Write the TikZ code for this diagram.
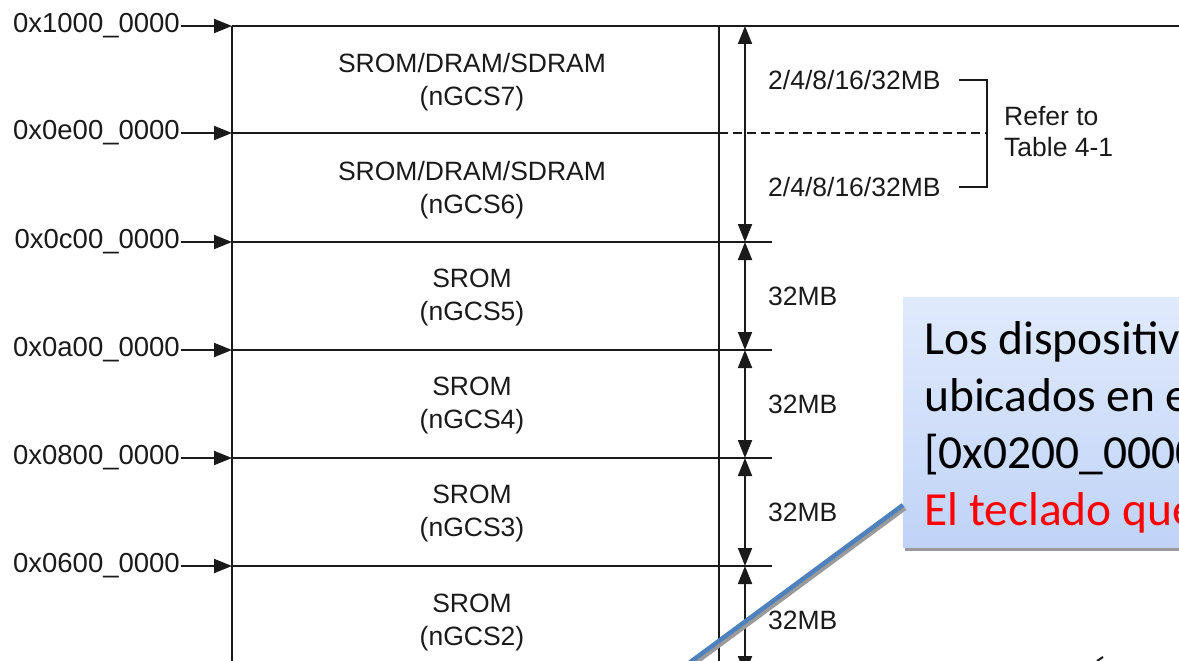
\documentclass[tikz,border=0pt]{standalone}
\usepackage{fontspec}
\setmainfont{Liberation Sans}
\newfontfamily\calloutfont{Carlito}
\usetikzlibrary{arrows.meta}
\definecolor{ink}{HTML}{1A1A1A}
\definecolor{noteTop}{HTML}{E0EAFC}
\definecolor{noteBot}{HTML}{C0D3F7}
\definecolor{pointerBlue}{HTML}{4F81BD}
\definecolor{shadowGrey}{HTML}{9A9A9A}
\begin{document}
\begin{tikzpicture}[x=1pt,y=-1pt,
  rule/.style={line width=1.9pt, draw=ink},
  addrarrow/.style={rule, -{Triangle[length=18pt,width=14pt]}},
  dimarrow/.style={rule, {Triangle[length=18pt,width=14pt]}-{Triangle[length=18pt,width=14pt]}},
  addr/.style={font=\fontsize{27.5}{30}\selectfont, text=ink, anchor=east, inner sep=1pt},
  blk/.style={font=\fontsize{26.5}{33}\selectfont, text=ink, align=center, inner sep=0pt},
  size/.style={font=\fontsize{26.5}{30}\selectfont, text=ink, anchor=west, inner sep=1pt},
  notebox/.style={anchor=north west, inner sep=0pt, minimum width=300pt, minimum height=250pt,
                  top color=noteTop, bottom color=noteBot, draw=none}]
\useasboundingbox (0,0) rectangle (1179,661);
\clip (0,0) rectangle (1179,661);

% boundaries of the map on the left edge
\coordinate (L0) at (232,26);
\coordinate (L1) at (232,133);
\coordinate (L2) at (232,242);
\coordinate (L3) at (232,350);
\coordinate (L4) at (232,458);
\coordinate (L5) at (232,566);
\coordinate (Lend) at (232,690);
% right edge of the map
\coordinate (R0) at (719,26);
\coordinate (R1) at (719,133);
\coordinate (Rend) at (719,690);
% end points of the size arrows
\coordinate (D0) at (745,26);
\coordinate (D2) at (745,242);
\coordinate (D3) at (745,350);
\coordinate (D4) at (745,458);
\coordinate (D5) at (745,566);
\coordinate (D6) at (745,674);

% address labels
\node[addr] (a0) at (181,26)  {0x1000\_0000};
\node[addr] (a1) at (181,133) {0x0e00\_0000};
\node[addr] (a2) at (181,242) {0x0c00\_0000};
\node[addr] (a3) at (181,350) {0x0a00\_0000};
\node[addr] (a4) at (181,458) {0x0800\_0000};
\node[addr] (a5) at (181,566) {0x0600\_0000};
\foreach \i in {0,...,5} \draw[addrarrow] (a\i.east) -- (L\i);

% frame of the memory map
\draw[rule] (L0) -- (1179,26);
\draw[rule] (L0) -- (Lend);
\draw[rule] (R0) -- (Rend);
\draw[rule] (L1) -- (R1);
\foreach \i/\y in {2/242,3/350,4/458,5/566} \draw[rule] (L\i) -- (772,\y);

% banks
\node[blk] (b7) at (472,82)  {SROM/DRAM/SDRAM\\(nGCS7)};
\node[blk] (b6) at (472,190) {SROM/DRAM/SDRAM\\(nGCS6)};
\node[blk] (b5) at (472,297) {SROM\\(nGCS5)};
\node[blk] (b4) at (472,405) {SROM\\(nGCS4)};
\node[blk] (b3) at (472,513) {SROM\\(nGCS3)};
\node[blk] (b2) at (472,622) {SROM\\(nGCS2)};

% bank sizes
\draw[dimarrow] (D0) -- (D2);
\draw[dimarrow] (D2) -- (D3);
\draw[dimarrow] (D3) -- (D4);
\draw[dimarrow] (D4) -- (D5);
\draw[dimarrow] (D5) -- (D6);
\node[size] (s7) at (767,80)  {2/4/8/16/32MB};
\node[size] (s6) at (767,187) {2/4/8/16/32MB};
\node[size] (s5) at (767,296) {32MB};
\node[size] (s4) at (767,404) {32MB};
\node[size] (s3) at (767,512) {32MB};
\node[size] (s2) at (767,620) {32MB};

% bracket for the configurable banks
\coordinate (brA) at (959,80);
\coordinate (brB) at (959,187);
\coordinate (brM) at (987,133);
\draw[rule] (brA) -- ++(28,0) |- (brB);
\draw[rule, dash pattern=on 9pt off 5pt] (R1) -- (brM);
\node[font=\fontsize{26.5}{31}\selectfont, text=ink, align=left, anchor=west, inner sep=0pt]
  (ref) at (1004,132) {Refer to\\Table 4-1};

% callout note
\fill[shadowGrey] (905,301) rectangle (1200,551);
\node[notebox] (note) at (903,297) {};
\coordinate (ptr) at (666,680);
\draw[shadowGrey, line width=4.5pt] ([xshift=2pt,yshift=-3pt]note.south west |- 0,505) -- ([xshift=2pt,yshift=-3pt]ptr);
\draw[pointerBlue, line width=4.5pt] (note.south west |- 0,505) -- (ptr);
\node[anchor=base west, align=left, inner sep=0pt,
      font=\calloutfont\fontsize{47.5}{57}\selectfont] (notetext) at (924,525)
  {Los dispositivos\\ubicados en el\\{}[0x0200\_0000\\\textcolor{red}{El teclado que}};

% accent of a line of text below the edge
\draw[ink, line width=2pt] (1097,661) -- (1103,657);
\end{tikzpicture}
\end{document}
